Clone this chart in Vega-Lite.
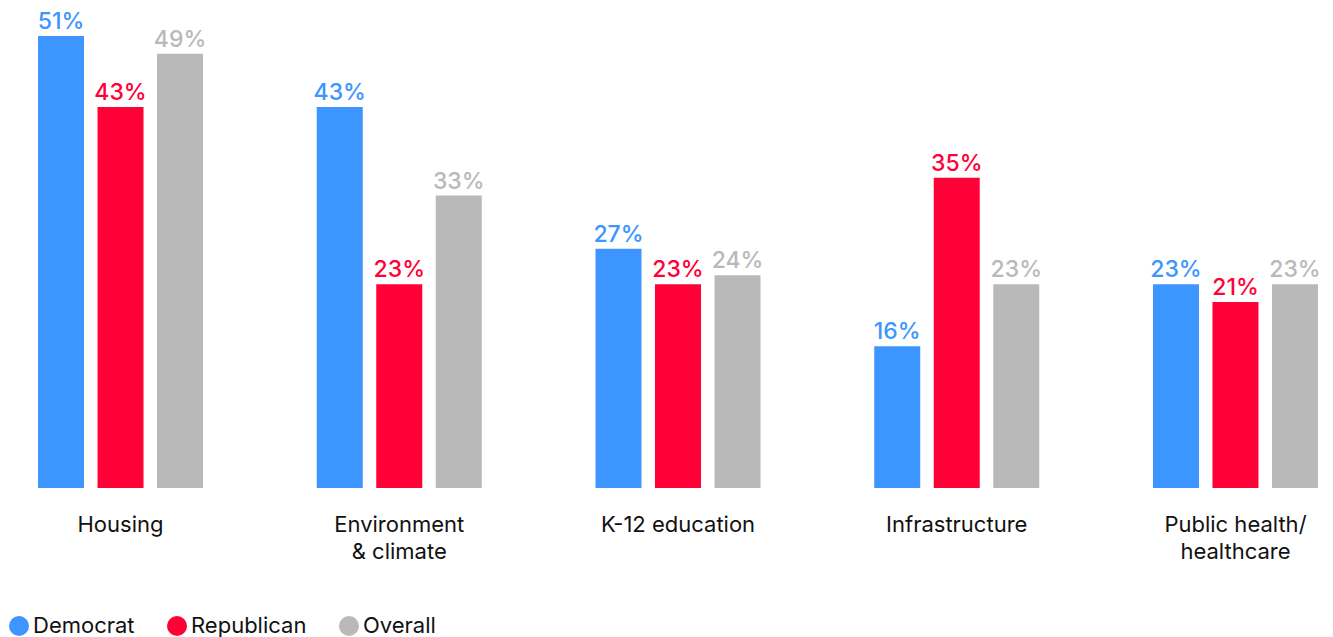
{
  "$schema": "https://vega.github.io/schema/vega-lite/v6.json",
  "width": 1280,
  "height": 452,
  "autosize": {"type": "none"},
  "padding": {"left": 38, "top": 36, "right": 15, "bottom": 149},
  "background": "white",
  "config": {
    "view": {"stroke": null},
    "font": "Inter",
    "text": {"font": "Inter"}
  },
  "data": {
    "values": [
      {"category": "Housing", "party": "Democrat", "value": 0.51},
      {"category": "Housing", "party": "Republican", "value": 0.43},
      {"category": "Housing", "party": "Overall", "value": 0.49},
      {"category": "Environment|& climate", "party": "Democrat", "value": 0.43},
      {"category": "Environment|& climate", "party": "Republican", "value": 0.23},
      {"category": "Environment|& climate", "party": "Overall", "value": 0.33},
      {"category": "K-12 education", "party": "Democrat", "value": 0.27},
      {"category": "K-12 education", "party": "Republican", "value": 0.23},
      {"category": "K-12 education", "party": "Overall", "value": 0.24},
      {"category": "Infrastructure", "party": "Democrat", "value": 0.16},
      {"category": "Infrastructure", "party": "Republican", "value": 0.35},
      {"category": "Infrastructure", "party": "Overall", "value": 0.23},
      {"category": "Public health/|healthcare", "party": "Democrat", "value": 0.23},
      {"category": "Public health/|healthcare", "party": "Republican", "value": 0.21},
      {"category": "Public health/|healthcare", "party": "Overall", "value": 0.23}
    ]
  },
  "encoding": {
    "x": {
      "field": "category",
      "type": "nominal",
      "sort": ["Housing", "Environment|& climate", "K-12 education", "Infrastructure", "Public health/|healthcare"],
      "scale": {"paddingInner": 0.408, "paddingOuter": 0},
      "axis": {
        "title": null,
        "labelAngle": 0,
        "domain": false,
        "ticks": false,
        "labelPadding": 26,
        "labelFontSize": 22,
        "labelLineHeight": 27,
        "labelColor": "#111111",
        "labelFont": "Inter",
        "labelExpr": "split(datum.label, '|')"
      }
    },
    "xOffset": {
      "field": "party",
      "type": "nominal",
      "sort": ["Democrat", "Republican", "Overall"],
      "scale": {"paddingInner": 0.227, "paddingOuter": 0}
    },
    "y": {
      "field": "value",
      "type": "quantitative",
      "scale": {"domain": [0, 0.51], "nice": false, "zero": true},
      "axis": null
    },
    "color": {
      "field": "party",
      "type": "nominal",
      "sort": ["Democrat", "Republican", "Overall"],
      "scale": {"domain": ["Democrat", "Republican", "Overall"], "range": ["#3D95FF", "#FF0037", "#B9B9B9"]},
      "legend": {
        "title": null,
        "orient": "none",
        "direction": "horizontal",
        "legendX": -30,
        "legendY": 579,
        "symbolType": "circle",
        "symbolSize": 400,
        "symbolStrokeWidth": 0,
        "symbolOpacity": 1,
        "labelFontSize": 22,
        "labelColor": "#111111",
        "labelFont": "Inter",
        "labelOffset": 3,
        "columnPadding": 31
      }
    }
  },
  "layer": [
    {"mark": {"type": "bar", "opacity": 1}},
    {
      "mark": {"type": "text", "baseline": "alphabetic", "dy": -7, "fontSize": 23, "fontWeight": 500, "font": "Inter"},
      "encoding": {
        "text": {"field": "value", "type": "quantitative", "format": ".0%"}
      }
    }
  ]
}
